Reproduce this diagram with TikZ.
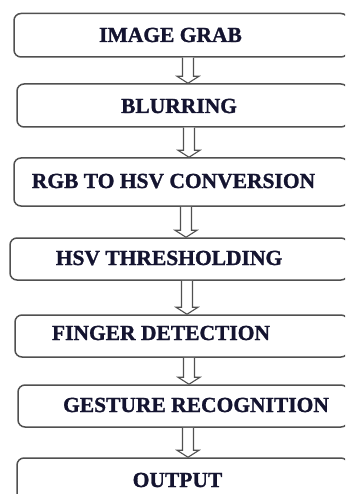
\documentclass[tikz,border=0pt]{standalone}
\usepackage{fontspec}
\setmainfont[BoldFeatures={FakeBold=1.3}]{Liberation Serif}
\usetikzlibrary{calc}
\definecolor{boxgray}{RGB}{80,80,80}
\definecolor{txtnavy}{RGB}{20,20,48}
\tikzset{
  box/.style={draw=boxgray, line width=1.5pt, rounded corners=7pt, inner sep=0pt},
  lbl/.style={anchor=base, inner sep=0pt, text=txtnavy, font=\fontsize{21.5}{24}\selectfont\bfseries},
  blockarrow/.style={draw=boxgray, line width=1.1pt, fill=white, line join=miter}
}
\newcommand{\blockarr}[2]{%
  \draw[blockarrow] let \p1=(#1), \p2=(#2) in
    (\x1-5.5pt,\y1) -- (\x1-5.5pt,\y2+7pt) -- (\x1-11pt,\y2+7pt) -- (\x1,\y2)
    -- (\x1+11pt,\y2+7pt) -- (\x1+5.5pt,\y2+7pt) -- (\x1+5.5pt,\y1);}
\begin{document}
\begin{tikzpicture}[x=1pt,y=-1pt]
\useasboundingbox (0,0) rectangle (345,494);
\clip (0,0) rectangle (345,494);
% boxes
\node[box, minimum width=334pt, minimum height=43.5pt] (b1) at (181,35.25) {};
\node[box, minimum width=331pt, minimum height=43pt] (b2) at (182.5,105.5) {};
\node[box, minimum width=334pt, minimum height=48pt] (b3) at (181,182) {};
\node[box, minimum width=338pt, minimum height=42pt] (b4) at (179,259) {};
\node[box, minimum width=333pt, minimum height=42pt] (b5) at (181.5,336) {};
\node[box, minimum width=330pt, minimum height=42pt] (b6) at (183,406) {};
\node[box, minimum width=331pt, minimum height=60pt] (b7) at (182.5,488) {};
% labels
\node[lbl] (t1) at (170.5,42) {IMAGE GRAB};
\node[lbl] (t2) at (179,113) {BLURRING};
\node[lbl] (t3) at (173.5,188) {RGB TO HSV CONVERSION};
\node[lbl] (t4) at (169,265) {HSV THRESHOLDING};
\node[lbl] (t5) at (161,340) {FINGER DETECTION};
\node[lbl] (t6) at (196,412) {GESTURE RECOGNITION};
\node[lbl] (t7) at (177.5,487) {OUTPUT};
% arrows
\coordinate (ax1) at (188,0);
\coordinate (ax2) at (189,0);
\coordinate (ax3) at (186,0);
\coordinate (ax4) at (187,0);
\coordinate (ax5) at (189,0);
\coordinate (ax6) at (188,0);
\blockarr{b1.south -| ax1}{b2.north -| ax1}
\blockarr{b2.south -| ax2}{b3.north -| ax2}
\blockarr{b3.south -| ax3}{b4.north -| ax3}
\blockarr{b4.south -| ax4}{b5.north -| ax4}
\blockarr{b5.south -| ax5}{b6.north -| ax5}
\blockarr{b6.south -| ax6}{b7.north -| ax6}
\end{tikzpicture}
\end{document}
